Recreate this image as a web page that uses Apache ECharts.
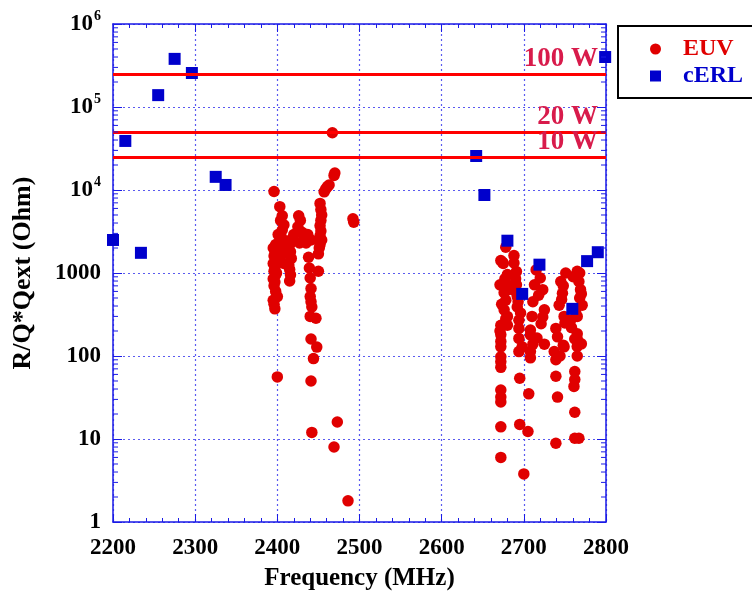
<!DOCTYPE html>
<html>
<head>
<meta charset="utf-8">
<script src="https://cdn.jsdelivr.net/npm/echarts@6/dist/echarts.min.js"></script>
<style>html,body{margin:0;padding:0;background:#fff;}#c{width:752px;height:592px;}</style>
</head>
<body>
<div id="c"></div>
<script>
// ---- data ----
var xTicks = [2200, 2300, 2400, 2500, 2600, 2700, 2800];
var yTickLabels = ['1', '10', '100', '1000', '10^4', '10^5', '10^6'];
var thresholds = [250000, 50000, 25000];
var thresholdLabels = ['100 W', '20 W', '10 W'];

var euv = [
  [2396, 9600], [2398, 2200], [2395, 2000], [2397, 1800], [2396, 1600], [2398, 1450], [2395, 1300],
  [2397, 1150], [2396, 1050], [2398, 950], [2395, 850], [2397, 780], [2396, 700], [2398, 600],
  [2400, 520], [2395, 470], [2396, 420], [2397, 370], [2400, 56], [2399, 1000], [2401, 2900],
  [2403, 6300], [2406, 4900], [2404, 4300], [2408, 3800], [2406, 3300], [2405, 2700], [2410, 2400],
  [2408, 2000], [2406, 1700], [2403, 1500], [2408, 1300],
  [2416, 2500], [2415, 2200], [2416, 1800], [2417, 1500], [2414, 1250], [2415, 1100], [2416, 950], [2415, 800],
  [2426, 4900], [2428, 4300], [2425, 3600], [2430, 3100], [2420, 2900], [2433, 2700], [2437, 2900],
  [2430, 2400], [2427, 2300], [2435, 2300], [2441, 2500],
  [2438, 1550], [2439, 1150], [2440, 870], [2441, 650], [2440, 520], [2441, 450], [2442, 390],
  [2440, 300], [2447, 285], [2441, 160], [2448, 128], [2444, 93], [2441, 50], [2442, 12],
  [2450, 1700], [2450, 1050],
  [2452, 6900], [2453, 5800], [2454, 5000], [2453, 4300], [2452, 3700], [2453, 3200], [2452, 2800],
  [2454, 2500], [2452, 2200], [2451, 2000],
  [2457, 9500], [2459, 10300], [2461, 11000], [2463, 11500], [2469, 15000], [2470, 16000], [2467, 49000],
  [2492, 4500], [2493, 4100], [2473, 16], [2469, 8], [2486, 1.8],
  [2678, 2040], [2672, 1410], [2675, 1300], [2680, 960], [2671, 720], [2680, 720], [2681, 630],
  [2676, 580], [2678, 470], [2676, 360], [2680, 300], [2672, 235], [2680, 235], [2672, 180],
  [2672, 150], [2672, 129], [2672, 98], [2672, 85], [2672, 73], [2672, 39], [2672, 32], [2672, 28],
  [2672, 14], [2672, 6], [2674, 1350], [2677, 850], [2673, 420], [2678, 280], [2671, 200],
  [2688, 1620], [2688, 1320], [2691, 1040], [2691, 720], [2692, 520], [2690, 600], [2692, 390],
  [2694, 270], [2694, 215], [2694, 163], [2694, 113], [2698, 129], [2695, 54], [2695, 15], [2700, 3.8],
  [2693, 450], [2690, 850], [2696, 330],
  [2715, 1090], [2720, 870], [2713, 720], [2723, 630], [2711, 450], [2725, 360], [2723, 295],
  [2721, 245], [2708, 205], [2725, 139], [2711, 139], [2708, 113], [2708, 95], [2708, 180],
  [2706, 35], [2705, 12.3], [2718, 540], [2710, 300], [2716, 165],
  [2745, 790], [2747, 570], [2743, 410], [2749, 300], [2739, 215], [2741, 170], [2749, 129],
  [2737, 113], [2739, 90], [2744, 100], [2739, 57], [2741, 32], [2739, 8.9], [2751, 1000],
  [2748, 700], [2746, 480], [2750, 250], [2748, 135],
  [2765, 1050], [2768, 1000], [2767, 790], [2769, 630], [2771, 410], [2763, 340], [2765, 300],
  [2757, 270], [2765, 185], [2765, 160], [2765, 130], [2765, 100], [2762, 65], [2762, 52],
  [2761, 43], [2762, 21], [2762, 10.2], [2767, 10.2], [2760, 900], [2770, 560], [2758, 220],
  [2770, 140], [2768, 500], [2762, 160]
];

var cerl = [
  [2200, 2500], [2215, 39000], [2234, 1750], [2255, 139000], [2275, 380000], [2296, 257000],
  [2325, 14400], [2337, 11500], [2642, 25700], [2652, 8700], [2680, 2450], [2698, 560],
  [2719, 1260], [2759, 370], [2777, 1390], [2790, 1780], [2799, 400000]
];

// minor log ticks (2..9 x 10^k)
var yMinor = [];
for (var k = 0; k < 6; k++) { for (var m = 2; m <= 9; m++) { yMinor.push([m * Math.pow(10, k)]); } }

var FONT = '"Liberation Serif", "Times New Roman", serif';
var BLUE = '#1a1ae6';
var GRID = '#5a5af0';

var chart = echarts.init(document.getElementById('c'), null, {renderer: 'canvas'});

function yFmt(v) {
  var idx = Math.round(Math.log10(v));
  var s = yTickLabels[idx];
  if (s && s.indexOf('^') > 0) {
    var p = s.split('^');
    return '{b|' + p[0] + '}{s|' + p[1] + '}';
  }
  return '{b|' + s + '}';
}

var option = {
  animation: false,
  backgroundColor: '#fff',
  grid: {left: 113, right: 146, top: 24, bottom: 70, containLabel: false, outerBoundsMode: 'none'},
  legend: {
    orient: 'vertical', left: 618, top: 26,
    padding: [11, 60, 10, 32], itemGap: 3, itemWidth: 11, itemHeight: 11,
    borderColor: '#000', borderWidth: 2, backgroundColor: '#fff',
    textStyle: {fontFamily: FONT, fontWeight: 'bold', fontSize: 24, padding: [0, 0, 0, 17]},
    data: [
      {name: 'EUV', icon: 'circle', textStyle: {color: '#e00000'}},
      {name: 'cERL', icon: 'rect', textStyle: {color: '#0000cc'}}
    ]
  },
  xAxis: [{
    type: 'value', min: 2200, max: 2800, interval: 100,
    name: 'Frequency (MHz)', nameLocation: 'middle', nameGap: 44,
    nameTextStyle: {fontFamily: FONT, fontWeight: 'bold', fontSize: 25, color: '#000'},
    axisLine: {show: true, lineStyle: {color: BLUE, width: 1.5}},
    axisTick: {show: true, inside: true, length: 8, lineStyle: {color: BLUE}},
    minorTick: {show: true, splitNumber: 5, length: 4, lineStyle: {color: BLUE}},
    axisLabel: {fontFamily: FONT, fontWeight: 'bold', fontSize: 23, color: '#000', margin: 15,
      formatter: function (v) { return xTicks.indexOf(v) >= 0 ? String(v) : ''; }},
    splitLine: {show: true, lineStyle: {color: GRID, type: [2, 3], width: 1.2}}
  }, {
    type: 'value', min: 2200, max: 2800, interval: 100, position: 'top',
    axisLine: {show: true, lineStyle: {color: BLUE, width: 1.5}},
    axisTick: {show: true, inside: true, length: 8, lineStyle: {color: BLUE}},
    minorTick: {show: true, splitNumber: 5, length: 4, lineStyle: {color: BLUE}},
    axisLabel: {show: false}, splitLine: {show: false}
  }],
  yAxis: [{
    type: 'log', logBase: 10, min: 1, max: 1000000,
    name: 'R/Q*Qext (Ohm)', nameLocation: 'middle', nameGap: 77, nameRotate: 90,
    nameTextStyle: {fontFamily: FONT, fontWeight: 'bold', fontSize: 26, color: '#000'},
    axisLine: {show: true, lineStyle: {color: BLUE, width: 1.5}},
    axisTick: {show: true, inside: true, length: 9, lineStyle: {color: BLUE}},
    axisLabel: {
      margin: 12, color: '#000', formatter: yFmt,
      rich: {
        b: {fontFamily: FONT, fontWeight: 'bold', fontSize: 23, color: '#000'},
        s: {fontFamily: FONT, fontWeight: 'bold', fontSize: 14, color: '#000', padding: [0, 0, 16, 1]}
      }
    },
    splitLine: {show: true, lineStyle: {color: GRID, type: [2, 3], width: 1.2}}
  }, {
    type: 'log', logBase: 10, min: 1, max: 1000000, position: 'right',
    axisLine: {show: true, lineStyle: {color: BLUE, width: 1.5}},
    axisTick: {show: true, inside: true, length: 9, lineStyle: {color: BLUE}},
    axisLabel: {show: false}, splitLine: {show: false}
  }],
  series: [
    {
      name: 'thresholds', type: 'line', data: [], xAxisIndex: 0, yAxisIndex: 0,
      markLine: {
        silent: true, symbol: ['none', 'none'],
        lineStyle: {color: '#ff0000', width: 3, type: 'solid'},
        label: {position: 'insideEndTop', distance: [8, 1], fontFamily: FONT, fontWeight: 'bold', fontSize: 27, color: '#d81b4b',
          formatter: function (p) { return p.name; }},
        data: thresholds.map(function (t, i) { return {yAxis: t, name: thresholdLabels[i]}; })
      }
    },
    {
      name: 'yminor', type: 'custom', data: yMinor, silent: true, z: 5,
      encode: {y: 0},
      renderItem: function (params, api) {
        var v = api.value(0);
        var l = api.coord([2200, v]);
        var r = api.coord([2800, v]);
        var st = {stroke: BLUE, lineWidth: 1};
        return {type: 'group', children: [
          {type: 'line', shape: {x1: l[0], y1: l[1], x2: l[0] + 5, y2: l[1]}, style: st},
          {type: 'line', shape: {x1: r[0], y1: r[1], x2: r[0] - 5, y2: r[1]}, style: st}
        ]};
      }
    },
    {
      name: 'EUV', type: 'scatter', data: euv, symbol: 'circle', symbolSize: 11.5,
      itemStyle: {color: '#e00000', opacity: 1}, z: 3
    },
    {
      name: 'cERL', type: 'scatter', data: cerl, symbol: 'rect', symbolSize: 12,
      itemStyle: {color: '#0000cc', opacity: 1}, z: 4
    }
  ]
};
chart.setOption(option);
</script>
</body>
</html>
